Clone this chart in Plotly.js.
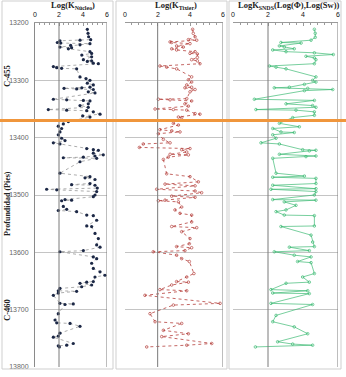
<!DOCTYPE html>
<html><head><meta charset="utf-8">
<script src="https://cdn.plot.ly/plotly-3.0.1.min.js"></script>
<style>html,body{margin:0;padding:0;background:#fff;}#chart{width:346px;height:377px;}</style>
</head><body><div id="chart"></div>
<script>
// Panel 1: core permeability
const depthCore = [13211,13218,13224,13229,13230,13231,13234,13235,13236,13238,13239,13242,13243,13245,13250,13253,13256,13259,13264,13266,13267,13270,13271,13276,13278,13279,13280,13294,13297,13300,13305,13308,13312,13313,13314,13315,13316,13320,13322,13333,13334,13335,13336,13341,13344,13347,13351,13352,13353,13355,13359,13362,13364,
13372,13376,13380,13384,13390,13395,13401,13405,13409,13411,13419,13421,13422,13427,13430,13432,13434,13435,13436,13442,13462,13468,13470,13473,13480,13482,13483,13488,13490,13491,13494,13500,13503,13508,13509,13510,13520,13525,13527,13529,13535,13536,13544,13554,13555,13567,13576,13587,13591,
13597,13599,13608,13611,13619,13628,13634,13640,13643,13651,13652,13654,13657,13660,13663,13667,13668,13671,13675,13689,13690,13691,13707,13718,13723,13724,13729,13741,13746,13748,13759,13762,13763,13765];
const logKCore = [4.36,4.42,4.47,4.64,3.75,2.08,1.86,2.14,4.58,3.75,2.97,2.08,3.05,2.78,4.58,4.72,3.9,4.72,4.03,4.72,4.36,4.86,5.28,1.53,1.81,2.22,3.47,3.75,4.25,4.58,4.36,4.86,4.58,3.9,2.42,3.47,4.86,4.44,5.0,1.53,2.64,4.03,4.58,4.44,3.75,4.44,1.11,2.64,4.31,4.86,5.42,3.97,4.58,
2.78,2.36,1.94,2.22,2.08,1.94,2.22,2.5,1.53,2.08,4.31,4.86,5.28,4.86,5.69,5.0,4.03,2.36,5.14,3.75,2.08,4.58,4.17,5.0,4.58,3.05,5.0,5.19,0.97,1.81,5.14,5.0,4.86,2.5,3.05,2.22,2.36,2.64,1.94,3.47,4.31,4.86,5.14,4.31,4.72,5.0,5.28,5.14,5.42,
4.03,2.08,4.86,5.14,4.72,4.86,5.42,5.83,5.0,4.86,4.31,3.75,4.72,3.89,2.08,1.94,3.47,1.94,1.53,2.08,3.19,2.5,1.94,1.67,1.81,2.92,3.75,2.08,1.94,1.53,3.19,2.64,1.94,2.03];

// Panel 2: Tixier
const depthTixier = [13211,13218,13224,13229,13230,13233,13234,13236,13240,13242,13245,13247,13250,13253,13254,13260,13264,13266,13271,13275,13277,13280,13294,13299,13303,13308,13312,13313,13316,13320,13332,13333,13334,13336,13341,13345,13350,13351,13352,13358,13359,13364,13365,
13375,13378,13386,13388,13390,13393,13403,13409,13411,13417,13419,13421,13425,13429,13430,13434,13438,13463,13468,13477,13481,13484,13490,13493,13496,13502,13504,13509,13510,13512,13521,13526,13532,13535,13547,13555,13557,13564,13576,13585,13590,13592,
13597,13599,13605,13611,13616,13637,13643,13651,13652,13657,13665,13667,13675,13689,13692,13707,13721,13724,13736,13742,13747,13759,13762,13765];
const logKTixier = [4.14,4.18,4.29,3.88,4.39,2.76,2.86,3.98,3.16,3.57,2.86,3.16,4.29,3.98,4.43,4.43,4.08,4.43,4.59,2.14,2.55,3.16,4.08,3.88,4.08,3.78,4.08,3.67,4.29,3.98,3.78,2.04,2.76,4.08,3.67,3.88,1.84,2.96,3.78,4.29,4.59,3.27,3.47,
2.96,3.27,2.14,2.86,3.37,2.04,2.35,2.76,1.12,0.88,3.98,3.47,3.78,2.76,3.88,2.65,2.35,2.55,3.98,4.49,2.45,4.29,1.94,4.29,4.69,2.86,4.29,2.45,2.04,3.27,3.47,3.06,3.37,4.08,4.08,2.86,4.39,3.47,3.98,3.94,3.16,4.08,
3.67,1.73,3.16,3.47,3.94,4.22,3.78,3.16,3.88,2.86,2.14,3.78,1.22,5.82,2.96,1.53,1.84,3.47,2.35,3.88,2.25,5.31,3.78,1.33];

// Panel 3: SNDS model
const depthSNDS = [13211,13218,13225,13230,13234,13235,13240,13242,13245,13247,13250,13252,13255,13258,13261,13264,13271,13275,13277,13280,13294,13300,13303,13307,13312,13313,13314,13316,13318,13333,13335,13341,13344,13347,13351,13352,13355,13361,13365,
13375,13381,13384,13390,13391,13395,13401,13409,13411,13421,13422,13423,13429,13432,13433,13436,13462,13467,13469,13471,13480,13483,13489,13490,13494,13500,13508,13509,13512,13518,13526,13529,13535,13536,13554,13555,13570,13582,13590,13591,
13597,13599,13605,13608,13616,13618,13637,13643,13652,13654,13665,13667,13671,13672,13689,13691,13710,13721,13730,13742,13756,13760,13762,13765];
const logKSNDS = [4.65,4.7,4.7,4.46,2.74,3.89,2.65,2.93,3.5,2.27,3.03,4.65,5.73,4.17,4.65,4.74,4.65,2.08,2.46,3.03,4.74,4.55,4.74,4.08,3.22,2.36,4.27,5.7,4.08,1.22,4.65,3.03,4.55,4.74,1.31,3.6,4.65,4.65,3.41,
2.65,3.79,2.27,2.74,3.5,2.27,2.46,1.6,2.65,3.98,4.74,4.36,2.65,4.74,4.17,2.27,2.46,4.08,2.27,4.74,4.74,2.27,4.74,2.17,4.74,4.65,2.27,4.74,2.93,3.6,3.03,2.46,2.93,4.65,4.65,2.74,4.46,4.55,4.65,3.22,
4.36,2.36,3.5,4.46,3.69,4.46,4.65,3.98,4.36,3.03,2.17,4.27,2.27,4.36,2.17,4.55,2.46,2.27,3.5,4.27,2.55,3.41,4.55,1.28];

const xTicks = [0, 2, 4, 6];
const depthTicks = [13200, 13300, 13400, 13500, 13600, 13700, 13800];
const panelTitles = ['Log(K<sub>Núcleo</sub>)', 'Log(K<sub>Tixier</sub>)', 'LogK<sub>SNDS</sub>(Log(Φ),Log(Sw))'];
const wellLabels = ['C-455', 'C-460'];
const depthTitle = 'Profundidad (Pies)';
const contactDepth = 13370;

const W = 346, H = 377;
const px = v => v / W;
const py = v => 1 - v / H;

const traces = [
  {x: logKCore, y: depthCore, xaxis: 'x', yaxis: 'y', mode: 'lines+markers', type: 'scatter',
   line: {color: '#8a8a8a', width: 0.7, dash: 'dot'},
   marker: {color: '#1c2846', size: 3.2}},
  {x: logKTixier, y: depthTixier, xaxis: 'x2', yaxis: 'y2', mode: 'lines+markers', type: 'scatter',
   line: {color: '#b5403c', width: 0.8, dash: 'dot'},
   marker: {color: '#b5403c', size: 2.6, symbol: 'circle-open', line: {width: 0.7, color: '#b5403c'}}},
  {x: logKSNDS, y: depthSNDS, xaxis: 'x3', yaxis: 'y3', mode: 'lines+markers', type: 'scatter',
   line: {color: '#3dba74', width: 0.7},
   marker: {color: '#3dba74', size: 2.6, symbol: 'circle-open', line: {width: 0.7, color: '#3dba74'}}}
];

const plotDomains = [[35, 107], [125, 223], [233, 338]];
const yDom = [py(367), py(23)];
const xNames = ['x', 'x2', 'x3'];

function xax(i) {
  return {
    domain: [px(plotDomains[i][0]), px(plotDomains[i][1])],
    range: [0, 6], side: 'top', anchor: i === 0 ? 'y' : 'y' + (i + 1),
    tickmode: 'array', tickvals: xTicks, showticklabels: false,
    showgrid: false, zeroline: false,
    showline: true, linecolor: '#9a9a9a', linewidth: 1,
    ticks: 'inside', ticklen: 3, tickcolor: '#9a9a9a',
    minor: {dtick: 0.4, tick0: 0, ticks: 'inside', ticklen: 2, tickcolor: '#9a9a9a', showgrid: false},
    fixedrange: true
  };
}
function yax(i) {
  return {
    domain: yDom, range: [13800, 13200], anchor: i === 0 ? 'x' : 'x' + (i + 1),
    tickmode: 'array', tickvals: depthTicks, ticktext: depthTicks.map(String), showticklabels: i === 0,
    showgrid: true, gridcolor: '#c4c4c4', gridwidth: 1, zeroline: false,
    showline: i === 0, linecolor: '#8a8a8a', linewidth: 1,
    ticks: '', tickfont: {family: 'Liberation Sans', size: 7, color: '#666666'},
    ticklabelstandoff: 4, fixedrange: true
  };
}

const shapes = [];
// panel frames
[[2, 113], [116, 227], [229, 341]].forEach(b => {
  shapes.push({type: 'rect', xref: 'paper', yref: 'paper', x0: px(b[0]), x1: px(b[1]), y0: py(369), y1: py(1),
    line: {color: '#cfcfcf', width: 1}});
});
// vertical reference lines at 2 and 6
xNames.forEach((xr, i) => {
  const yr = i === 0 ? 'y' : 'y' + (i + 1);
  [2, 6].forEach(v => shapes.push({type: 'line', xref: xr, yref: yr + ' domain', x0: v, x1: v, y0: 0, y1: 1,
    line: {color: '#7a7a7a', width: 1}}));
});
// contact line
shapes.push({type: 'line', xref: 'paper', yref: 'y', x0: 0, x1: 1, y0: contactDepth, y1: contactDepth,
  line: {color: '#f0963c', width: 3}});

const titleFont = {family: 'Liberation Serif', size: 8.5, color: '#222'};
const annotations = panelTitles.map((t, i) => ({
  text: '<b>' + t + '</b>', xref: 'paper', yref: 'paper',
  x: px((plotDomains[i][0] + plotDomains[i][1]) / 2 + (i === 2 ? 3 : 2)), y: py(6),
  xanchor: 'center', yanchor: 'middle', showarrow: false, font: titleFont
}));
// x tick labels placed on each top axis
xNames.forEach(xr => {
  xTicks.forEach(v => annotations.push({text: String(v), xref: xr, yref: 'paper', x: v, y: py(14),
    xanchor: 'center', yanchor: 'middle', showarrow: false,
    font: {family: 'Liberation Sans', size: 7, color: '#111111'}}));
});
annotations.push({text: '<b>' + wellLabels[0] + '</b>', xref: 'paper', yref: 'paper', x: px(7), y: py(76),
  textangle: -90, showarrow: false, xanchor: 'center', yanchor: 'middle', font: titleFont});
annotations.push({text: '<b>' + wellLabels[1] + '</b>', xref: 'paper', yref: 'paper', x: px(7), y: py(310),
  textangle: -90, showarrow: false, xanchor: 'center', yanchor: 'middle', font: titleFont});
annotations.push({text: '<b>' + depthTitle + '</b>', xref: 'paper', yref: 'paper', x: px(7), y: py(204),
  textangle: -90, showarrow: false, xanchor: 'center', yanchor: 'middle',
  font: {family: 'Liberation Serif', size: 8, color: '#222'}});

const layout = {
  width: W, height: H, margin: {l: 0, r: 0, t: 0, b: 0},
  font: {color: '#333333'},
  paper_bgcolor: '#fff', plot_bgcolor: 'rgba(0,0,0,0)', showlegend: false,
  xaxis: xax(0), xaxis2: xax(1), xaxis3: xax(2),
  yaxis: yax(0), yaxis2: yax(1), yaxis3: yax(2),
  shapes: shapes, annotations: annotations
};

Plotly.newPlot('chart', traces, layout, {displayModeBar: false, staticPlot: true});
</script></body></html>
